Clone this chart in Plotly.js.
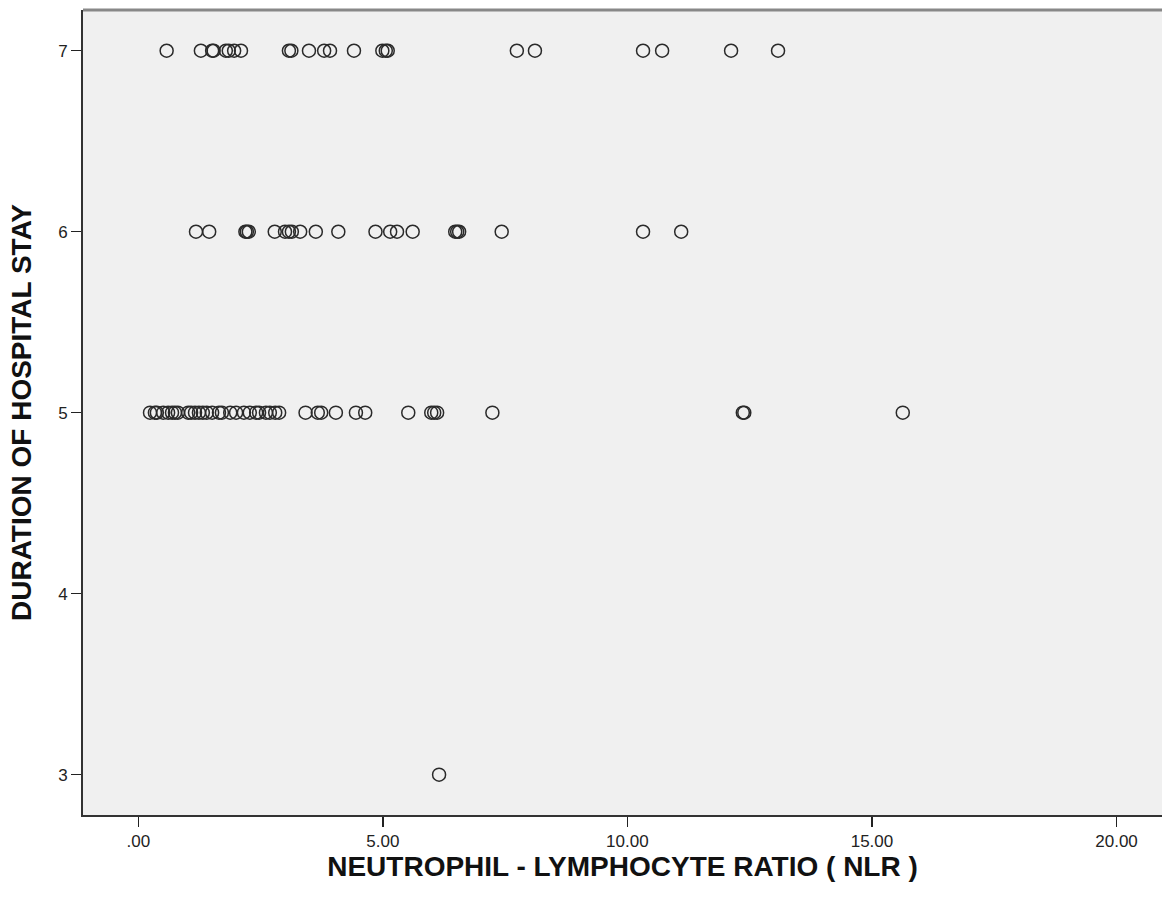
<!DOCTYPE html>
<html>
<head>
<meta charset="utf-8">
<script src="https://cdn.plot.ly/plotly-3.0.1.min.js"></script>
<style>html,body{margin:0;padding:0;background:#fff;}#chart{width:1163px;height:901px;}</style>
</head>
<body>
<div id="chart"></div>
<script>
// NLR values for each hospital stay duration group
const nlrStay7 = [0.58, 1.28, 1.51, 1.54, 1.79, 1.85, 1.96, 2.10, 3.08, 3.13, 3.49, 3.80, 3.92, 4.41, 4.99, 5.06, 5.10, 7.74, 8.11, 10.32, 10.71, 12.12, 13.08];
const nlrStay6 = [1.18, 1.45, 2.19, 2.22, 2.26, 2.79, 3.00, 3.08, 3.14, 3.31, 3.63, 4.09, 4.85, 5.15, 5.29, 5.61, 6.48, 6.52, 6.56, 7.43, 10.32, 11.10];
const nlrStay5 = [0.24, 0.34, 0.38, 0.51, 0.61, 0.69, 0.75, 0.81, 1.02, 1.08, 1.16, 1.24, 1.32, 1.40, 1.51, 1.65, 1.71, 1.88, 2.00, 2.16, 2.28, 2.41, 2.47, 2.61, 2.69, 2.80, 2.88, 3.42, 3.67, 3.74, 4.04, 4.45, 4.64, 5.52, 5.99, 6.05, 6.11, 7.24, 12.36, 12.39, 15.63];
const nlrStay3 = [6.15];

const xTickVals = [0, 5, 10, 15, 20];
const xTickText = ['.00', '5.00', '10.00', '15.00', '20.00'];
const yTickVals = [3, 4, 5, 6, 7];

const allX = [].concat(nlrStay7, nlrStay6, nlrStay5, nlrStay3);
const allY = [].concat(nlrStay7.map(() => 7), nlrStay6.map(() => 6), nlrStay5.map(() => 5), nlrStay3.map(() => 3));

const trace = {
  x: allX,
  y: allY,
  type: 'scatter',
  mode: 'markers',
  marker: {symbol: 'circle-open', size: 13, color: '#2a2a2a', line: {width: 1.5, color: '#2a2a2a'}},
  hoverinfo: 'x+y',
  showlegend: false
};

const titleFont = {size: 28, color: '#111', family: '"Liberation Sans", Arial, sans-serif', weight: 'bold'};

const layout = {
  width: 1163,
  height: 901,
  margin: {l: 83, r: 1, t: 10, b: 86},
  paper_bgcolor: '#ffffff',
  plot_bgcolor: '#f0f0f0',
  font: {family: '"Liberation Sans", Arial, sans-serif', color: '#222'},
  xaxis: {
    range: [-1.13, 20.93],
    tickvals: xTickVals,
    ticktext: xTickText,
    ticks: 'outside',
    ticklen: 10,
    tickwidth: 1.5,
    tickcolor: '#222',
    showgrid: false,
    zeroline: false,
    showline: true,
    linecolor: '#333',
    linewidth: 2,
    automargin: true,
    tickfont: {size: 17, color: '#222'},
    title: {text: 'NEUTROPHIL - LYMPHOCYTE RATIO ( NLR )', font: titleFont, standoff: 1}
  },
  yaxis: {
    range: [2.777, 7.225],
    tickvals: yTickVals,
    ticks: 'outside',
    ticklen: 10,
    tickwidth: 1.5,
    tickcolor: '#222',
    showgrid: false,
    zeroline: false,
    showline: true,
    linecolor: '#333',
    linewidth: 2,
    automargin: false,
    tickfont: {size: 17, color: '#222'},
    title: {text: 'DURATION OF HOSPITAL STAY', font: titleFont, standoff: 18}
  },
  shapes: [
    {type: 'line', xref: 'paper', yref: 'paper', x0: 0, x1: 1, y0: 1, y1: 1, line: {color: '#888', width: 3}}
  ]
};

Plotly.newPlot('chart', [trace], layout, {displayModeBar: false, staticPlot: true});
</script>
</body>
</html>
